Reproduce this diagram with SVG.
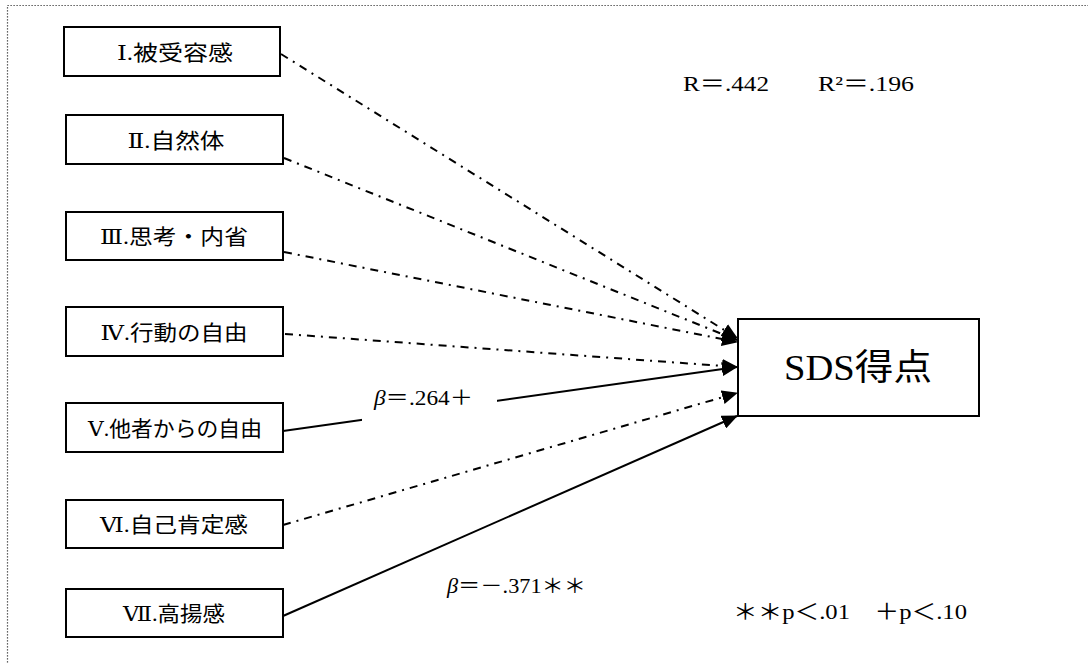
<svg xmlns="http://www.w3.org/2000/svg" width="1088" height="663" viewBox="0 0 1088 663">
  <defs>
    <marker id="arrow" markerUnits="userSpaceOnUse" markerWidth="16" markerHeight="14" refX="15" refY="7" orient="auto">
      <path d="M0,0 L16,7 L0,14 Z" fill="#000"/>
    </marker>
    <style>
      .frame { fill: none; stroke: #333; stroke-width: 1.2; stroke-dasharray: 1.2 1.8; }
      .box { fill: #fff; stroke: #000; stroke-width: 2; }
      .lbl { font-family: "Liberation Serif", "DejaVu Serif", "Noto Sans CJK JP", serif; font-size: 21px; fill: #000; text-anchor: middle; }
      .big { font-family: "Liberation Serif", "Noto Sans CJK JP", serif; font-size: 36px; fill: #000; text-anchor: middle; }
      .note { font-family: "Liberation Serif", "Noto Sans CJK JP", serif; font-size: 22px; fill: #000; }
      .beta { font-family: "Liberation Serif", "Noto Sans CJK JP", serif; font-size: 20px; fill: #000; }
      .dd { fill: none; stroke: #000; stroke-width: 2; stroke-dasharray: 8 6 2 6; marker-end: url(#arrow); }
      .solid { fill: none; stroke: #000; stroke-width: 2; marker-end: url(#arrow); }
    </style>
  </defs>

  <rect width="1088" height="663" fill="#fff"/>
  <!-- dotted outer frame -->
  <rect class="frame" x="7.5" y="5.5" width="1100" height="700"/>

  <!-- connectors -->
  <g id="connectors">
    <line class="dd" x1="281" y1="54" x2="737" y2="338"/>
    <line class="dd" x1="284" y1="158" x2="737" y2="340"/>
    <line class="dd" x1="284" y1="252" x2="737" y2="342"/>
    <line class="dd" x1="285" y1="334" x2="737" y2="367"/>
    <line class="solid" x1="283" y1="431" x2="737" y2="367"/>
    <line class="dd" x1="283" y1="525" x2="737" y2="393"/>
    <line class="solid" x1="283" y1="616" x2="737" y2="416"/>
    <!-- gap in the V line behind its coefficient -->
    <rect x="362" y="395" width="135" height="30" fill="#fff"/>
  </g>

  <!-- predictors -->
  <g id="node-1">
    <rect class="box" x="64" y="27" width="216" height="49"/>
    <text class="lbl" x="175" y="60" textLength="116" lengthAdjust="spacingAndGlyphs">Ⅰ.被受容感</text>
  </g>
  <g id="node-2">
    <rect class="box" x="66" y="115" width="217" height="49"/>
    <text class="lbl" x="176" y="148" textLength="97" lengthAdjust="spacingAndGlyphs">Ⅱ.自然体</text>
  </g>
  <g id="node-3">
    <rect class="box" x="66" y="212" width="217" height="48"/>
    <text class="lbl" x="174" y="244" textLength="148" lengthAdjust="spacingAndGlyphs">Ⅲ.思考・内省</text>
  </g>
  <g id="node-4">
    <rect class="box" x="66" y="307" width="217" height="49"/>
    <text class="lbl" x="174" y="340" textLength="147" lengthAdjust="spacingAndGlyphs">Ⅳ.行動の自由</text>
  </g>
  <g id="node-5">
    <rect class="box" x="66" y="403" width="217" height="49"/>
    <text class="lbl" x="175" y="436" textLength="174" lengthAdjust="spacingAndGlyphs">Ⅴ.他者からの自由</text>
  </g>
  <g id="node-6">
    <rect class="box" x="66" y="500" width="217" height="48"/>
    <text class="lbl" x="174" y="532" textLength="148" lengthAdjust="spacingAndGlyphs">Ⅵ.自己肯定感</text>
  </g>
  <g id="node-7">
    <rect class="box" x="66" y="589" width="217" height="48"/>
    <text class="lbl" x="174" y="621" textLength="102" lengthAdjust="spacingAndGlyphs">Ⅶ.高揚感</text>
  </g>

  <!-- outcome -->
  <g id="node-sds">
    <rect class="box" x="738" y="319" width="241" height="97"/>
    <text class="big" x="858" y="380" textLength="148" lengthAdjust="spacingAndGlyphs">SDS得点</text>
  </g>

  <!-- coefficients and fit -->
  <g id="labels">
    <text class="note" x="683" y="91" textLength="86" lengthAdjust="spacingAndGlyphs">R＝.442</text>
    <text class="note" x="818" y="91" textLength="96" lengthAdjust="spacingAndGlyphs">R²＝.196</text>
    <text class="beta" x="374" y="405" textLength="99" lengthAdjust="spacingAndGlyphs"><tspan font-style="italic">β</tspan>＝.264＋</text>
    <text class="beta" x="447" y="593" textLength="139" lengthAdjust="spacingAndGlyphs"><tspan font-style="italic">β</tspan>＝－.371＊＊</text>
    <text class="note" x="733" y="619" textLength="234" lengthAdjust="spacingAndGlyphs">＊＊p＜.01　＋p＜.10</text>
  </g>
</svg>
